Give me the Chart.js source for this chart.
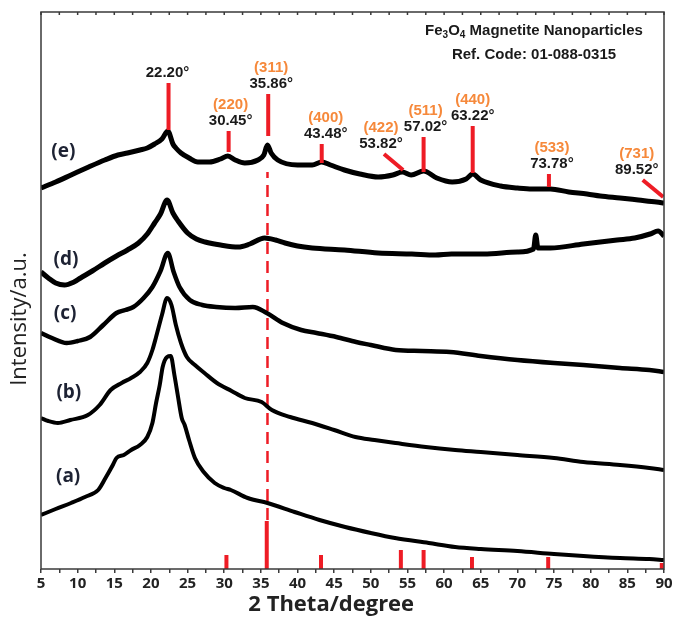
<!DOCTYPE html>
<html>
<head>
<meta charset="utf-8">
<script src="https://cdn.jsdelivr.net/npm/chart.js@4.4.1/dist/chart.umd.min.js"></script>
<style>
  html, body { margin: 0; padding: 0; background: #fff; }
  #wrap { width: 675px; height: 617px; }
</style>
</head>
<body>
<div id="wrap"><canvas id="xrdChart"></canvas></div>
<script>
// XRD patterns, intensity (arbitrary units, baseline = 0)
const angleA = [5, 7, 9.1, 11, 12.8, 13.8, 14.8, 15.3, 16.3, 17.3, 18.5, 19.5, 20.2, 20.7, 21.2, 21.6, 22.2, 22.7, 23.2, 23.7, 24.2, 24.6, 25.2, 26, 27.2, 28.7, 30, 30.9, 33.2, 35.9, 39.6, 43, 46.5, 50, 53.3, 57.9, 61.5, 65, 70, 75, 79, 84, 88, 90];
const intensityA = [54, 60, 66, 72, 79, 91, 104, 111, 114, 119, 124, 132, 146, 166, 184, 202, 212, 213, 194, 172, 151, 144, 129, 111, 97, 86, 81, 79, 71, 66, 57, 49, 42, 36, 31, 26, 22, 20, 18, 15, 13, 11, 10, 9];

const angleB = [5, 6, 7.3, 9, 11.4, 13, 14.5, 16, 17.3, 18.5, 19.5, 20.2, 20.7, 21.5, 22.2, 22.8, 23.4, 24.1, 24.9, 26, 27.3, 29, 31, 32.8, 35.1, 36.5, 39, 42, 45, 47.9, 50.5, 53.4, 57.5, 61.5, 65, 70, 75, 79, 84, 88, 90];
const intensityB = [151, 148, 146, 149, 154, 164, 179, 186, 191, 197, 206, 219, 232, 254, 271, 264, 244, 226, 212, 204, 196, 186, 178, 171, 167, 159, 152, 146, 139, 132, 129, 126, 122, 119, 117, 114, 111, 107, 104, 101, 99];

const angleC = [5, 6.5, 8.5, 10, 11.7, 13.5, 15.3, 16.5, 17.6, 19, 20.2, 21.3, 22.3, 23.1, 23.9, 25.3, 27, 28.9, 31.5, 33.9, 35.8, 38, 40.5, 42.6, 45.3, 48, 50, 53.4, 57, 60.8, 65, 70, 75, 79, 84, 88, 90];
const intensityC = [236, 231, 226, 228, 232, 244, 256, 259, 262, 271, 282, 298, 316, 297, 282, 269, 264, 262, 261, 262, 256, 246, 239, 236, 232, 227, 224, 219, 218, 217, 213, 209, 206, 204, 201, 199, 197];

const angleD = [5, 6, 7, 8.2, 9.5, 10.4, 12, 13.7, 15.3, 16.8, 18.3, 19.5, 20.5, 21.3, 22.2, 23, 23.7, 25, 26.2, 27.4, 29.5, 31.9, 33.5, 35.5, 37, 38.3, 40, 42, 46.4, 51, 55.6, 58.8, 61, 65.4, 70, 72.2, 72.5, 72.8, 74.5, 79, 83.6, 86, 88.1, 89.2, 90];
const intensityD = [297, 291, 286, 284, 287, 291, 298, 306, 313, 319, 326, 335, 346, 355, 369, 356, 348, 336, 330, 327, 324, 322, 325, 331, 329, 326, 323, 321, 319, 316, 315, 314, 315, 315, 317, 320, 334, 321, 321, 325, 329, 331, 335, 338, 333];

const angleE = [5, 7, 9.1, 11.5, 13.7, 15.5, 16.8, 18.5, 19.5, 20.5, 21.5, 22.3, 23, 23.4, 24.1, 25.2, 26.4, 28, 29.5, 30.5, 31.5, 32.8, 34.6, 35.4, 35.9, 36.4, 37.3, 40, 42, 43.3, 44.5, 46.4, 48.5, 51, 53, 54.3, 55.5, 57.2, 59, 61.1, 63, 63.9, 65, 67.7, 70, 72, 74.5, 77, 79.5, 81.3, 84, 86.5, 89, 90];
const intensityE = [381, 387, 394, 402, 409, 414, 416, 419, 421, 425, 430, 438, 425, 421, 416, 411, 407, 407, 410, 413, 409, 406, 409, 414, 424, 416, 409, 404, 404, 407, 404, 399, 395, 392, 394, 397, 394, 398, 391, 387, 390, 395, 389, 383, 381, 380, 380, 377, 375, 373, 371, 369, 367, 366];

const curveNames = ["(a)", "(b)", "(c)", "(d)", "(e)"];

// Fe3O4 reference pattern (01-088-0315) sticks at the bottom
const refAngles = [30.3, 35.8, 43.2, 54.1, 57.2, 63.8, 74.2, 89.7];
const refHeights = [14, 48, 14, 19, 19, 12, 12, 6];

// peak markers above pattern (e)
const markerLabels = ["22.20°", "30.45°", "35.86°", "43.48°", "53.82°", "57.02°", "63.22°", "73.78°", "89.52°"];
const markerHkl = ["", "(220)", "(311)", "(400)", "(422)", "(511)", "(440)", "(533)", "(731)"];
const markerFrom = [22.4, 30.6, 36.0, 43.3, 51.8, 57.2, 63.9, 74.3, 87.1];
const markerTo = [22.4, 30.6, 36.0, 43.3, 54.4, 57.2, 63.9, 74.3, 89.9];
const markerTop = [486, 438, 475, 425, 415, 432, 443, 395, 389];
const markerBase = [439, 417, 433, 406, 399, 397, 396, 382, 372];

const dashAngle = 35.9;
const dashRange = [49, 397];

const RED = "#ee1c25";
const ORANGE = "#f6893b";
const INK = "#1d2233";

// text placement: pixel nudges for the peak labels, (degree, intensity) for the (a)..(e) tags
const labelNudge = [-1, 2, 3, 4, -3, 2, 0, 3, -6];
const nameSpots = [[8.7, 92], [8.8, 176], [8.3, 255], [8.4, 309], [8.05, 417]];

const toPoints = (xs, ys) => xs.map((x, i) => ({ x, y: ys[i] }));

const curves = [
  [angleA, intensityA, 4],
  [angleB, intensityB, 4],
  [angleC, intensityC, 4.5],
  [angleD, intensityD, 5],
  [angleE, intensityE, 5],
].map(([xs, ys, w]) => ({
  data: toPoints(xs, ys),
  showLine: true,
  borderColor: "#000",
  borderWidth: w,
  pointRadius: 0,
  cubicInterpolationMode: "monotone",
  order: 1,
}));

const refSticks = refAngles.map((a, i) => ({
  data: [{ x: a, y: 0 }, { x: a, y: refHeights[i] }],
  showLine: true,
  borderColor: RED,
  borderWidth: 4,
  borderCapStyle: "butt",
  pointRadius: 0,
  order: 2,
}));

const markers = markerFrom.map((a, i) => ({
  data: [{ x: a, y: markerTop[i] }, { x: markerTo[i], y: markerBase[i] }],
  showLine: true,
  borderColor: RED,
  borderWidth: 4,
  borderCapStyle: "butt",
  pointRadius: 0,
  order: 0,
}));

const dashLine = {
  data: [{ x: dashAngle, y: dashRange[0] }, { x: dashAngle, y: dashRange[1] }],
  showLine: true,
  borderColor: RED,
  borderWidth: 2.5,
  borderDash: [12, 7],
  pointRadius: 0,
  order: 2,
};

function drawSubText(ctx, parts, cx, cy, size) {
  const big = `bold ${size}px 'Liberation Sans', Arial, sans-serif`;
  const small = `bold ${Math.round(size * 0.65)}px 'Liberation Sans', Arial, sans-serif`;
  let total = 0;
  parts.forEach(([t, sub]) => {
    ctx.font = sub ? small : big;
    total += ctx.measureText(t).width;
  });
  let x = cx - total / 2;
  ctx.textAlign = "left";
  parts.forEach(([t, sub]) => {
    ctx.font = sub ? small : big;
    ctx.fillText(t, x, sub ? cy + 4 : cy);
    x += ctx.measureText(t).width;
  });
}

const decor = {
  id: "decor",
  afterDatasetsDraw(chart) {
    const { ctx, chartArea: area, scales } = chart;
    const x = scales.x;
    const y = scales.y;
    ctx.save();

    // frame + inward ticks on top edge
    ctx.strokeStyle = "#3a3a3a";
    ctx.lineWidth = 1.5;
    ctx.strokeRect(area.left, area.top, area.right - area.left, area.bottom - area.top);
    ctx.beginPath();
    x.ticks.forEach((t) => {
      const px = x.getPixelForValue(t.value);
      ctx.moveTo(px, area.top);
      ctx.lineTo(px, area.top + 3);
    });
    ctx.stroke();

    // peak labels
    ctx.textAlign = "center";
    ctx.textBaseline = "middle";
    ctx.font = "bold 15px 'Liberation Sans', Arial, sans-serif";
    markerFrom.forEach((a, i) => {
      const px = x.getPixelForValue(a) + labelNudge[i];
      const py = y.getPixelForValue(markerTop[i]);
      ctx.fillStyle = "#1a1a1a";
      ctx.fillText(markerLabels[i], px, py - 10);
      if (markerHkl[i]) {
        ctx.fillStyle = ORANGE;
        ctx.fillText(markerHkl[i], px, py - 26);
      }
    });

    // reference card text
    ctx.fillStyle = "#1a1a1a";
    const cx = area.right - 130;
    drawSubText(ctx, [["Fe", 0], ["3", 1], ["O", 0], ["4", 1], [" Magnetite Nanoparticles", 0]], cx, area.top + 19, 15);
    drawSubText(ctx, [["Ref. Code: 01-088-0315", 0]], cx, area.top + 43, 15);

    // pattern tags
    ctx.textAlign = "center";
    ctx.fillStyle = INK;
    ctx.font = "bold 19px 'Open Sans', sans-serif";
    nameSpots.forEach(([a, v], i) => {
      ctx.fillText(curveNames[i], x.getPixelForValue(a), y.getPixelForValue(v));
    });

    // axis titles
    ctx.fillStyle = "#222";
    ctx.font = "bold 22px 'Open Sans', sans-serif";
    ctx.fillText("2 Theta/degree", x.getPixelForValue(44.6), 605);
    ctx.save();
    ctx.translate(20, y.getPixelForValue(250));
    ctx.rotate(-Math.PI / 2);
    ctx.font = "22px 'Open Sans', sans-serif";
    ctx.fillText("Intensity/a.u.", 0, 0);
    ctx.restore();

    ctx.restore();
  },
};

new Chart(document.getElementById("xrdChart"), {
  type: "scatter",
  data: { datasets: [...markers, ...curves, dashLine, ...refSticks] },
  options: {
    responsive: true,
    maintainAspectRatio: false,
    animation: false,
    devicePixelRatio: 1,
    layout: { padding: { top: 12, right: 11, left: 0, bottom: 0 } },
    plugins: { legend: { display: false }, tooltip: { enabled: false } },
    scales: {
      x: {
        type: "linear",
        min: 5,
        max: 90,
        border: { display: false },
        grid: { drawOnChartArea: false, drawTicks: true, tickLength: 4, color: "#3a3a3a", lineWidth: 1.5 },
        ticks: {
          stepSize: 2.5,
          autoSkip: false,
          maxRotation: 0,
          padding: 2,
          color: "#222",
          font: { family: "'Open Sans', sans-serif", weight: "bold", size: 15 },
          callback: (v) => (v % 5 === 0 ? v : ""),
        },
        afterFit: (scale) => { scale.height = 48; },
      },
      y: {
        type: "linear",
        min: 0,
        max: 557,
        border: { display: false },
        grid: { display: false },
        ticks: { display: false },
        afterFit: (scale) => { scale.width = 41; },
      },
    },
  },
  plugins: [decor],
});
</script>
</body>
</html>
